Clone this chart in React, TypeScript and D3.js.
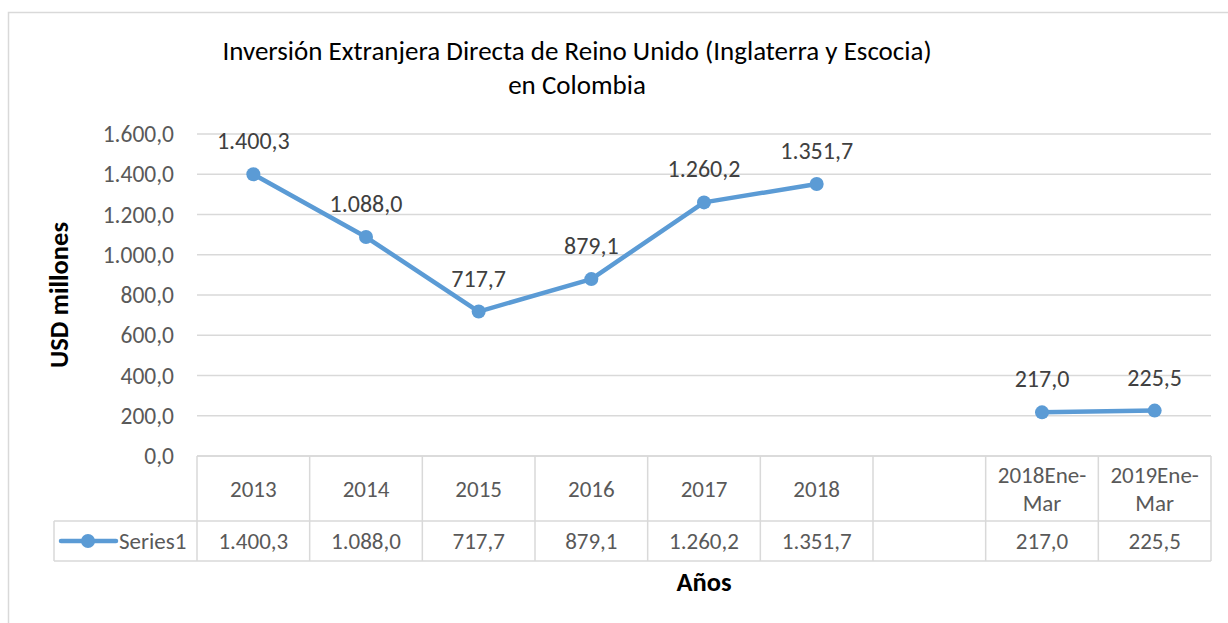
import React from "react";
import * as d3 from "d3";

const categories: string[][] = [
  ["2013"], ["2014"], ["2015"], ["2016"], ["2017"], ["2018"], [""],
  ["2018Ene-", "Mar"], ["2019Ene-", "Mar"],
];
const values: (number | null)[] = [1400.3, 1088.0, 717.7, 879.1, 1260.2, 1351.7, null, 217.0, 225.5];
const yTicks: number[] = [0, 200, 400, 600, 800, 1000, 1200, 1400, 1600];
const seriesName = "Series1";
const titleLines = ["Inversión Extranjera Directa de Reino Unido (Inglaterra y Escocia)", "en Colombia"];
const yTitle = "USD millones";
const xTitle = "Años";

const W = 1228, H = 623;
const FONT = "Carlito, Calibri, Lato, 'Open Sans', sans-serif";
const BLUE = "#5B9BD5";
const GRID = "#D9D9D9";

const fmt = (v: number) => {
  const s = v.toFixed(1);
  const [int, dec] = s.split(".");
  const withDots = int.replace(/\B(?=(\d{3})+(?!\d))/g, ".");
  return `${withDots},${dec}`;
};

export default function App() {
  const plotLeft = 197, plotRight = 1211;
  const plotTop = 134, plotBottom = 456;
  const headerBottom = 521, tableBottom = 561, legendLeft = 54;

  const x = d3.scaleBand<number>().domain(categories.map((_, i) => i)).range([plotLeft, plotRight]).padding(0);
  const y = d3.scaleLinear().domain([0, 1600]).range([plotBottom, plotTop]);
  const cx = (i: number) => (x(i) as number) + x.bandwidth() / 2;

  const line = d3.line<number | null>()
    .defined((d) => d !== null)
    .x((_, i) => cx(i))
    .y((d) => y(d as number));

  const colEdges = categories.map((_, i) => x(i) as number).concat([plotRight]);

  return (
    <div style={{ position: "absolute", left: 0, top: 0 }}>
      <svg width={W} height={H} style={{ display: "block", fontFamily: FONT }}>
        <rect x={0} y={0} width={W} height={H} fill="#fff" />
        {/* outer chart border */}
        <path d={`M8.5,${H} V12.5 H${W}`} fill="none" stroke={GRID} strokeWidth={1.5} />

        {/* title */}
        <text x={577} y={60} textAnchor="middle" fontSize={27} fill="#000">{titleLines[0]}</text>
        <text x={577} y={94} textAnchor="middle" fontSize={27} fill="#000">{titleLines[1]}</text>

        {/* gridlines */}
        {yTicks.map((t) => (
          <line key={t} x1={plotLeft} x2={plotRight} y1={y(t)} y2={y(t)} stroke={GRID} strokeWidth={1.5} />
        ))}
        {/* y tick labels */}
        {yTicks.map((t) => (
          <text key={"l" + t} x={174} y={y(t)} dy="0.35em" textAnchor="end" fontSize={23.5} fill="#595959">{fmt(t)}</text>
        ))}

        {/* y title */}
        <text transform={`translate(68,295) rotate(-90)`} textAnchor="middle" fontSize={26.5} fontWeight="bold" fill="#000">{yTitle}</text>

        {/* data table */}
        <g stroke={GRID} strokeWidth={1.5} fill="none">
          <line x1={plotLeft} x2={plotRight} y1={plotBottom} y2={plotBottom} />
          <line x1={legendLeft} x2={plotRight} y1={headerBottom} y2={headerBottom} />
          <line x1={legendLeft} x2={plotRight} y1={tableBottom} y2={tableBottom} />
          <line x1={legendLeft} x2={legendLeft} y1={headerBottom} y2={tableBottom} />
          {colEdges.map((e, i) => (
            <line key={i} x1={e} x2={e} y1={plotBottom} y2={tableBottom} />
          ))}
        </g>
        {categories.map((lines, i) => {
          const mid = (plotBottom + headerBottom) / 2;
          const lh = 28;
          const start = mid - ((lines.length - 1) * lh) / 2;
          return lines.map((l, j) => (
            <text key={i + "-" + j} x={cx(i)} y={start + j * lh} dy="0.35em" textAnchor="middle" fontSize={23} fill="#595959">{l}</text>
          ));
        })}
        {values.map((v, i) => v === null ? null : (
          <text key={"v" + i} x={cx(i)} y={(headerBottom + tableBottom) / 2} dy="0.35em" textAnchor="middle" fontSize={23} fill="#595959">{fmt(v)}</text>
        ))}
        {/* legend key */}
        <line x1={61} x2={116} y1={541} y2={541} stroke={BLUE} strokeWidth={4.5} strokeLinecap="round" />
        <circle cx={88} cy={541} r={7} fill={BLUE} />
        <text x={119} y={541} dy="0.35em" fontSize={23} fill="#595959">{seriesName}</text>

        {/* x title */}
        <text x={704} y={582} dy="0.35em" textAnchor="middle" fontSize={26.5} fontWeight="bold" fill="#000">{xTitle}</text>

        {/* series */}
        <path d={line(values) || ""} fill="none" stroke={BLUE} strokeWidth={4.5} strokeLinejoin="round" strokeLinecap="round" />
        {values.map((v, i) => v === null ? null : (
          <circle key={"c" + i} cx={cx(i)} cy={y(v)} r={7} fill={BLUE} />
        ))}
        {values.map((v, i) => v === null ? null : (
          <text key={"d" + i} x={cx(i)} y={y(v) - 25} textAnchor="middle" fontSize={24} fill="#404040">{fmt(v)}</text>
        ))}
      </svg>
    </div>
  );
}
